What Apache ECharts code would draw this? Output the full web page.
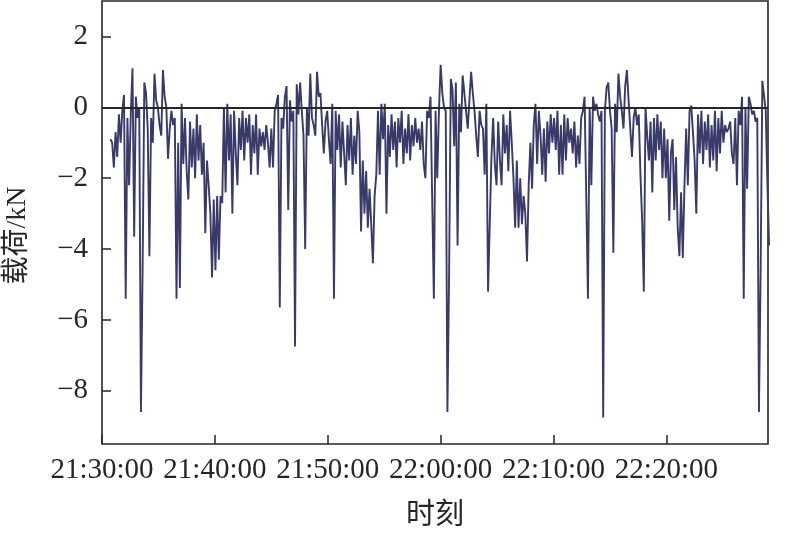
<!DOCTYPE html>
<html>
<head>
<meta charset="utf-8">
<script src="https://cdn.jsdelivr.net/npm/echarts@6/dist/echarts.min.js"></script>
<style>html,body{margin:0;padding:0;background:#fff;}#chart{width:787px;height:539px;}</style>
</head>
<body>
<div id="chart"></div>
<script>
// Axis ticks
const tickLabels = ['21:30:00', '21:40:00', '21:50:00', '22:00:00', '22:10:00', '22:20:00'];
const axisStart = '21:30:00';
const axisEnd = '22:29:00';
const yTicks = [-8, -6, -4, -2, 0, 2];
const yMin = -9.5, yMax = 3;
// Sampling: first sample 45 s after 21:30:00, one sample every 9 s
const firstSampleSec = 45;
const sampleStepSec = 9;
// 载荷 (kN)
const loadKN = [
  -0.9, -1.0, -1.7, -0.7, -1.4, -0.2, -1.0, -0.1, 0.35, -5.4,
  -0.3, -2.2, -0.2, 1.1, -3.65, 0.3, -0.3, 0.0, -8.6, -4.5,
  0.7, 0.4, -0.6, -4.2, -0.3, -1.0, 0.95, 0.2, 0.0, -0.5,
  -0.8, 1.05, 0.3, 0.0, -1.45, -0.6, -0.1, -0.5, -0.3, -5.4,
  -1.0, -5.1, 0.1, -1.6, -0.3, -1.8, -2.6, -0.4, -1.7, -0.6,
  -2.0, -0.2, -1.5, -0.5, -1.9, -1.0, -3.55, -1.5, -2.2, -3.0,
  -4.8, -2.6, -4.6, -2.5, -4.3, -2.5, -2.7, 0.0, -2.4, 0.1,
  -1.5, -0.2, -3.0, -0.1, -1.3, -2.2, -0.3, -1.2, -0.1, -1.5,
  -0.3, -1.0, -0.2, -1.9, -0.5, -1.3, -0.2, -1.9, -0.6, -1.1,
  -0.7, -1.2, -0.5, -1.0, -1.7, -0.6, -1.7, -0.1, 0.1, 0.35,
  -5.65, -0.3, -0.6, 0.3, 0.6, -2.9, 0.2, -0.4, -0.1, -6.75,
  0.65, -0.2, 0.7, -0.1, -0.8, -4.0, 0.0, -0.8, 0.95, -0.3,
  -0.5, -0.8, 1.0, 0.3, 0.4, -0.5, -1.3, -0.4, -0.1, -0.9,
  -1.6, 0.1, -5.4, -0.1, -1.2, -0.2, -1.7, -0.4, -1.3, -2.2,
  -0.5, -1.5, -0.3, -1.9, -0.8, -1.6, -0.1, -0.7, -3.5, -1.5,
  -3.0, -1.8, -3.4, -2.3, -3.3, -4.4, -2.5, -1.9, -0.1, -1.9,
  0.1, -0.9, 0.1, -3.0, -0.5, -1.4, -0.2, -1.2, -0.4, -1.7,
  -0.3, -1.0, -0.1, -1.6, -0.6, -1.3, -0.2, -1.5, -0.5, -1.1,
  -0.3, -1.0, -0.6, -1.2, -0.4, -1.6, -2.0, -0.1, -0.3, 0.3,
  0.3, -5.4, -0.1, -2.0, -0.1, 1.2, 0.4, 0.0, -0.1, -8.6,
  -4.7, 0.8, 0.5, -1.1, 0.7, -3.9, 0.1, -0.7, 0.9, 0.4,
  -0.1, -0.6, 0.2, 1.0, 0.4, -0.1, -0.8, -1.4, -0.1, -0.5,
  -0.6, -1.9, 0.1, -5.2, -5.2, -1.4, -0.3, -1.6, -2.2, -0.4,
  -1.5, -2.2, -0.2, -1.3, -0.5, -1.8, -0.1, -1.0, -2.0, -3.4,
  -1.5, -3.4, -2.0, -3.3, -2.5, -3.0, -4.35, -2.2, -1.0, -2.3,
  -0.5, 0.1, -1.6, -0.1, -0.8, -1.9, -0.6, -2.1, -0.4, -1.3,
  -0.2, -1.0, -0.3, -1.2, -0.1, -1.9, -0.5, -1.9, -0.2, -1.5,
  -0.3, -1.0, -0.6, -1.3, -0.4, -1.7, -0.8, -1.6, -0.3, -0.1,
  0.3, 0.35, -5.4, 0.0, -2.2, 0.3, -0.1, 0.1, -0.2, -0.4,
  -0.1, -8.75, -0.1, 0.55, 0.7, -0.1, -0.6, -4.1, 0.1, -0.7,
  0.95, 0.3, -0.1, -0.6, 0.6, 1.05, 0.2, -0.6, -1.4, -0.3,
  0.0, -0.5, -0.2, -1.9, -3.2, -5.2, 0.0, -0.8, -1.5, -0.4,
  -2.4, -0.3, -1.5, -0.2, -1.2, -0.4, -2.0, -0.6, -2.0, -0.9,
  -3.2, -1.3, -0.9, -2.9, -1.4, -3.4, -4.2, -2.4, -4.25, -2.2,
  -0.6, -2.2, -0.1, 0.05, -0.7, -1.5, -3.0, -0.2, -1.3, -0.1,
  -1.6, -0.4, -1.2, -0.2, -1.7, -0.5, -1.5, -0.1, -1.8, -0.3,
  -1.3, -0.1, -1.0, -0.5, -0.7, -0.6, -0.4, -1.3, -1.6, -0.3,
  -2.2, -0.1, -0.5, 0.3, -5.4, 0.0, -2.3, 0.3, 0.1, -0.2,
  -0.1, -0.4, -0.3, -8.6, -4.5, 0.75, 0.7, -0.1, -2.2, -3.9
];

// time of day in seconds
function toSec(hms) {
  const p = hms.split(':').map(Number);
  return p[0] * 3600 + p[1] * 60 + p[2];
}
function pad(n) { return (n < 10 ? '0' : '') + n; }
function fmtSec(s) {
  s = Math.round(s);
  return pad(Math.floor(s / 3600)) + ':' + pad(Math.floor((s % 3600) / 60)) + ':' + pad(s % 60);
}
const t0 = toSec(axisStart);
const seriesData = loadKN.map((v, i) => [t0 + firstSampleSec + i * sampleStepSec, v]);

const serif = '"Liberation Serif", "Times New Roman", "Noto Sans CJK SC", serif';
const ink = '#262626';

const chart = echarts.init(document.getElementById('chart'), null, { renderer: 'canvas' });
chart.setOption({
  animation: false,
  backgroundColor: '#ffffff',
  grid: {
    left: 102, right: 19, top: 1, bottom: 95,
    outerBoundsMode: 'none',
    containLabel: false,
    show: true, borderColor: ink, borderWidth: 1.6, backgroundColor: 'transparent'
  },
  xAxis: {
    type: 'value',
    min: toSec(axisStart),
    max: toSec(axisEnd),
    name: '时刻',
    nameLocation: 'middle',
    nameGap: 58,
    nameTextStyle: { fontFamily: serif, fontSize: 29, color: ink },
    axisLine: { show: false, onZero: false },
    axisTick: {
      show: true, inside: true, length: 9,
      lineStyle: { color: ink, width: 1.5 },
      customValues: tickLabels.map(toSec)
    },
    axisLabel: {
      show: true, margin: 12,
      fontFamily: serif, fontSize: 29, color: ink,
      customValues: tickLabels.map(toSec),
      formatter: v => fmtSec(v),
      hideOverlap: false
    },
    splitLine: { show: false }
  },
  yAxis: {
    type: 'value',
    min: yMin,
    max: yMax,
    name: '载荷/kN',
    nameLocation: 'middle',
    nameGap: 70,
    nameRotate: 90,
    nameTextStyle: { fontFamily: serif, fontSize: 28, color: ink, padding: [0, 26, 0, 0] },
    axisLine: { show: false, onZero: false },
    axisTick: {
      show: true, inside: true, length: 9,
      lineStyle: { color: ink, width: 1.5 },
      customValues: yTicks
    },
    axisLabel: {
      show: true, margin: 14,
      fontFamily: serif, fontSize: 29, color: ink,
      customValues: yTicks,
      formatter: v => String(v).replace('-', '\u2212')
    },
    splitLine: { show: false }
  },
  series: [{
    type: 'line',
    data: seriesData,
    showSymbol: false,
    symbol: 'none',
    clip: true,
    lineStyle: { color: '#383a6a', width: 1.9 },
    markLine: {
      silent: true,
      symbol: ['none', 'none'],
      label: { show: false },
      lineStyle: { color: ink, width: 2, type: 'solid' },
      data: [{ yAxis: 0 }]
    }
  }]
});
</script>
</body>
</html>
